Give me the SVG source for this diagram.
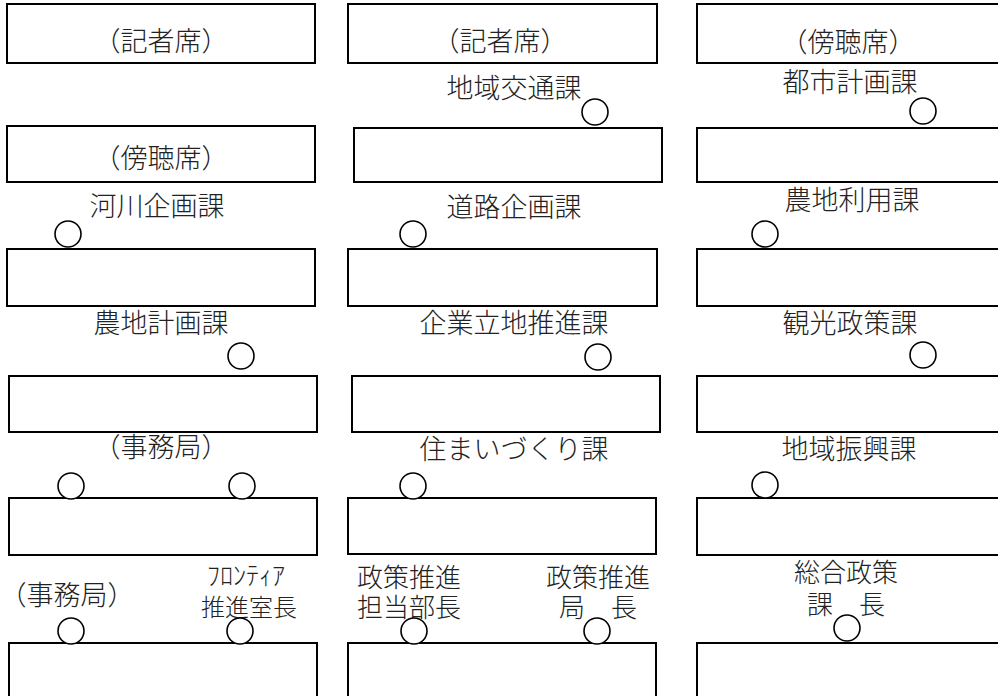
<svg xmlns="http://www.w3.org/2000/svg" width="998" height="696" viewBox="0 0 998 696">
<style>
.desk{fill:#fff;stroke:#000;stroke-width:2}
.seat{fill:#fff;stroke:#000;stroke-width:1.6}
text{font-family:"Noto Sans CJK JP","Noto Sans CJK SC",sans-serif;font-size:27px;font-weight:300;fill:#222;text-anchor:middle}
.s26{font-size:26px}
.s24{font-size:24px}
</style>
<rect width="998" height="696" fill="#fff"/>
<g id="desks">
<g id="desk-r1c1"><rect class="desk" x="7" y="4" width="308" height="59"/><text x="161" y="51">（記者席）</text></g>
<g id="desk-r1c2"><rect class="desk" x="348" y="4" width="309" height="59"/><text x="500" y="51">（記者席）</text></g>
<g id="desk-r1c3"><rect class="desk" x="697" y="4" width="320" height="59"/><text x="848" y="52">（傍聴席）</text></g>
<g id="desk-r2c1"><rect class="desk" x="7" y="126" width="308" height="56"/><text x="161" y="168">（傍聴席）</text></g>
<g id="desk-r2c2"><rect class="desk" x="354" y="128" width="308" height="54"/></g>
<g id="desk-r2c3"><rect class="desk" x="697" y="128" width="320" height="54"/></g>
<g id="desk-r3c1"><rect class="desk" x="7" y="249" width="308" height="57"/></g>
<g id="desk-r3c2"><rect class="desk" x="348" y="249" width="309" height="57"/></g>
<g id="desk-r3c3"><rect class="desk" x="697" y="249" width="320" height="57"/></g>
<g id="desk-r4c1"><rect class="desk" x="9" y="376" width="308" height="56"/></g>
<g id="desk-r4c2"><rect class="desk" x="352" y="376" width="308" height="56"/></g>
<g id="desk-r4c3"><rect class="desk" x="697" y="376" width="320" height="56"/></g>
<g id="desk-r5c1"><rect class="desk" x="9" y="498" width="308" height="57"/></g>
<g id="desk-r5c2"><rect class="desk" x="348" y="498" width="308" height="56"/></g>
<g id="desk-r5c3"><rect class="desk" x="697" y="498" width="320" height="57"/></g>
<g id="desk-r6c1"><rect class="desk" x="9" y="643" width="308" height="70"/></g>
<g id="desk-r6c2"><rect class="desk" x="348" y="643" width="308" height="70"/></g>
<g id="desk-r6c3"><rect class="desk" x="697" y="643" width="320" height="70"/></g>
</g>
<g id="seats">
<g id="chiiki-kotsu"><text x="514" y="98">地域交通課</text><circle class="seat" cx="595" cy="112" r="13"/></g>
<g id="toshi-keikaku"><text x="850" y="92">都市計画課</text><circle class="seat" cx="923" cy="111" r="13"/></g>
<g id="kasen-kikaku"><text x="157" y="216">河川企画課</text><circle class="seat" cx="68" cy="234" r="13"/></g>
<g id="doro-kikaku"><text x="514" y="217">道路企画課</text><circle class="seat" cx="413" cy="234" r="13"/></g>
<g id="nochi-riyo"><text x="852" y="210">農地利用課</text><circle class="seat" cx="765" cy="234" r="13"/></g>
<g id="nochi-keikaku"><text x="161" y="333">農地計画課</text><circle class="seat" cx="241" cy="356" r="13"/></g>
<g id="kigyo-ricchi"><text x="514" y="333">企業立地推進課</text><circle class="seat" cx="598" cy="357" r="13"/></g>
<g id="kanko-seisaku"><text x="850" y="333">観光政策課</text><circle class="seat" cx="923" cy="355" r="13"/></g>
<g id="jimukyoku-1"><text x="161" y="457">（事務局）</text><circle class="seat" cx="71" cy="486" r="13"/><circle class="seat" cx="242" cy="486" r="13"/></g>
<g id="sumai"><text x="514" y="459">住まいづくり課</text><circle class="seat" cx="413" cy="486" r="13"/></g>
<g id="chiiki-shinko"><text x="849" y="459">地域振興課</text><circle class="seat" cx="765" cy="485" r="13"/></g>
<g id="jimukyoku-2"><text x="67" y="605">（事務局）</text><circle class="seat" cx="71" cy="631" r="13"/></g>
<g id="frontier"><text class="s26" x="246" y="585">ﾌﾛﾝﾃｨｱ</text><text class="s24" x="249" y="616">推進室長</text><circle class="seat" cx="240" cy="631" r="13"/></g>
<g id="seisaku-buchou"><text class="s26" x="409" y="587">政策推進</text><text class="s26" x="409" y="617">担当部長</text><circle class="seat" cx="414" cy="631" r="13"/></g>
<g id="seisaku-kyokucho"><text class="s26" x="598" y="587">政策推進</text><text class="s26" x="598" y="617">局　長</text><circle class="seat" cx="597" cy="631" r="13"/></g>
<g id="sogo-seisaku"><text class="s26" x="846" y="582">総合政策</text><text class="s26" x="846" y="614">課　長</text><circle class="seat" cx="847" cy="628" r="13"/></g>
</g>
</svg>
